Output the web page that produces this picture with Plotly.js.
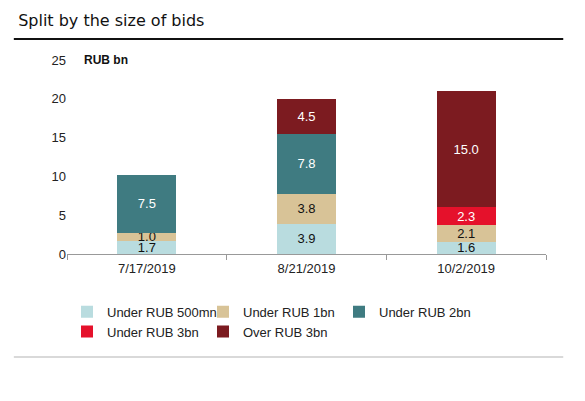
<!DOCTYPE html>
<html>
<head>
<meta charset="utf-8">
<script src="https://cdn.plot.ly/plotly-3.0.1.min.js"></script>
<style>
  html, body { margin: 0; padding: 0; background: #fff; }
  #plot { width: 585px; height: 401px; }
</style>
</head>
<body>
<div id="plot"></div>
<script>
var dates = ['7/17/2019', '8/21/2019', '10/2/2019'];
var names = ['Under RUB 500mn', 'Under RUB 1bn', 'Under RUB 2bn', 'Under RUB 3bn', 'Over RUB 3bn'];
var under500mn = [1.7, 3.9, 1.6];
var under1bn = [1.0, 3.8, 2.1];
var under2bn = [7.5, 7.8, null];
var under3bn = [null, null, 2.3];
var over3bn = [null, 4.5, 15.0];
var yTicks = [0, 5, 10, 15, 20, 25];

var series = [under500mn, under1bn, under2bn, under3bn, over3bn];
var colors = ['#b9dcdf', '#d8c397', '#3f7b81', '#e5112b', '#7c1b20'];
var textColors = ['#111', '#111', '#fff', '#fff', '#fff'];

var data = [];
for (var i = 0; i < series.length; i++) {
  data.push({
    x: dates,
    y: series[i],
    name: names[i],
    type: 'bar',
    marker: { color: colors[i] },
    text: series[i].map(function (v) { return v == null ? '' : v.toFixed(1); }),
    textposition: 'inside',
    insidetextanchor: 'middle',
    textangle: 0,
    constraintext: 'none',
    textfont: { family: 'Liberation Sans, Arial', size: 13, color: textColors[i] },
    hoverinfo: 'none'
  });
}

var layout = {
  width: 585,
  height: 401,
  barmode: 'stack',
  bargap: 0.63,
  paper_bgcolor: '#fff',
  plot_bgcolor: '#fff',
  font: { family: 'Liberation Sans, Arial', size: 13, color: '#222' },
  margin: { l: 67, r: 39, t: 60, b: 147 },
  title: {
    text: 'Split by the size of bids',
    x: 0.031, xanchor: 'left', xref: 'container',
    y: 0.95, yanchor: 'middle', yref: 'container',
    font: { family: 'DejaVu Sans', size: 16, color: '#111' }
  },
  xaxis: {
    type: 'category',
    showline: true,
    linecolor: '#999',
    linewidth: 1,
    ticks: 'outside',
    tickson: 'boundaries',
    ticklen: 5,
    tickcolor: '#999',
    ticklabelstandoff: 2,
    showgrid: false,
    tickfont: { size: 13, color: '#222' }
  },
  yaxis: {
    range: [0, 25],
    tickvals: yTicks,
    showgrid: false,
    zeroline: false,
    showline: false,
    ticks: '',
    tickfont: { size: 13, color: '#222' }
  },
  showlegend: true,
  legend: {
    orientation: 'h',
    x: 0, xanchor: 'left',
    y: -0.22, yanchor: 'top',
    entrywidth: 91,
    entrywidthmode: 'pixels',
    itemwidth: 30,
    traceorder: 'normal',
    bgcolor: 'rgba(0,0,0,0)',
    font: { size: 13, color: '#222' }
  },
  annotations: [{
    xref: 'paper', yref: 'paper',
    x: 0.031, y: 1, xanchor: 'left', yanchor: 'middle',
    text: '<b>RUB bn</b>', showarrow: false,
    font: { size: 12, color: '#111' }
  }],
  shapes: [
    { type: 'line', xref: 'paper', yref: 'paper', x0: -0.111, x1: 1.036, y0: 1.108, y1: 1.108,
      line: { color: '#111', width: 2 } },
    { type: 'line', xref: 'paper', yref: 'paper', x0: -0.111, x1: 1.036, y0: -0.531, y1: -0.531,
      line: { color: '#ccc', width: 1.5 } }
  ]
};

Plotly.newPlot('plot', data, layout, { displayModeBar: false, staticPlot: true });
</script>
</body>
</html>
